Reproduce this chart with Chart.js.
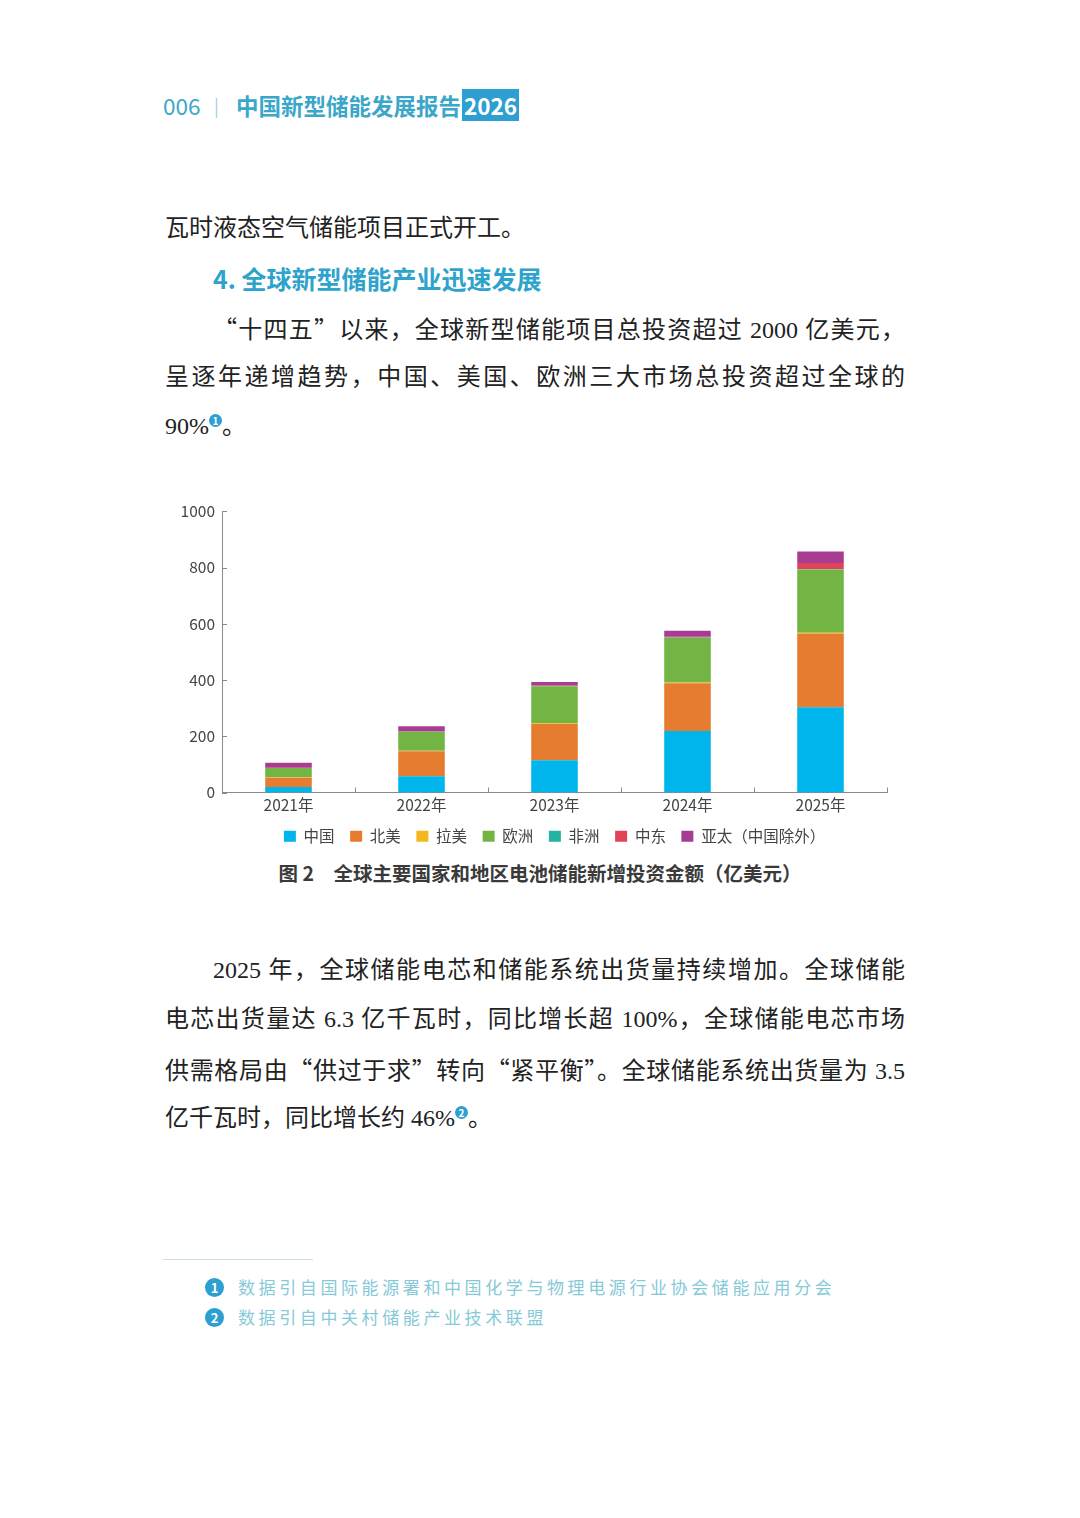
<!DOCTYPE html>
<html>
<head>
<meta charset="utf-8">
<script src="https://cdn.jsdelivr.net/npm/chart.js@4.4.1/dist/chart.umd.min.js"></script>
<style>
  body { margin: 0; background: #fff; width: 1080px; height: 1518px; position: relative; overflow: hidden; }
  .abs { position: absolute; }
  .hdr { top: 89px; font-family: "Noto Sans CJK SC", sans-serif; font-size: 22.5px; line-height: 32px; color: #3aa7c8; }
  .line { position: absolute; left: 165px; width: 740px; font-family: "Liberation Serif", "Noto Sans CJK SC", serif; font-size: 24px; line-height: 30px; color: #222; }
  .just { text-align: justify; text-align-last: justify; }
  .q { font-family: "Noto Sans CJK SC", sans-serif; }
  .sup { display: inline-block; width: 13px; height: 13px; border-radius: 50%; background: #2d9fd0; color: #fff; font-family: "Noto Sans CJK SC", sans-serif; font-size: 10px; line-height: 13px; text-align: center; vertical-align: 9px; font-weight: bold; }
  .foot { position: absolute; left: 205px; font-family: "Noto Sans CJK SC", sans-serif; font-size: 17px; letter-spacing: 3.6px; color: #86c9d8; line-height: 26px; }
  .num { display: inline-block; width: 19px; height: 19px; border-radius: 50%; background: #2d9fd0; color: #fff; font-size: 13px; line-height: 19px; text-align: center; letter-spacing: 0; font-weight: bold; margin-right: 14px; vertical-align: 1px; }
  #wrap { position: absolute; left: 165px; top: 495px; width: 740px; height: 359px; }
  .cap { position: absolute; top: 859px; left: 0; width: 1080px; text-align: center; font-family: "Noto Sans CJK SC", sans-serif; font-weight: bold; font-size: 19.5px; line-height: 28px; color: #3a3a3a; }
</style>
</head>
<body>
<div class="abs hdr" style="left:163px;">006</div>
<div class="abs hdr" style="left:214px;color:#9fd2e0;font-size:18px;">|</div>
<div class="abs hdr" style="left:236px;font-weight:bold;">中国新型储能发展报告<span style="background:#2d9fd0;color:#fff;padding:0 2px;margin-left:1px;">2026</span></div>

<div class="line" style="top:213px;">瓦时液态空气储能项目正式开工。</div>
<div class="line" style="top:263px;left:213px;font-family:'Noto Sans CJK SC',sans-serif;font-weight:bold;font-size:25px;color:#2ea3cb;">4. 全球新型储能产业迅速发展</div>
<div class="line just" style="top:313px;">&emsp;&emsp;<span class="q">“</span>十四五<span class="q">”</span>以来，全球新型储能项目总投资超过 2000 亿美元，</div>
<div class="line just" style="top:362px;">呈逐年递增趋势，中国、美国、欧洲三大市场总投资超过全球的</div>
<div class="line" style="top:411px;">90%<span class="sup">1</span>。</div>

<div id="wrap"><canvas id="grafico"></canvas></div>
<div class="cap">图 2&emsp;全球主要国家和地区电池储能新增投资金额（亿美元）</div>

<div class="line just" style="top:955px;">&emsp;&emsp;2025 年，全球储能电芯和储能系统出货量持续增加。全球储能</div>
<div class="line just" style="top:1004px;">电芯出货量达 6.3 亿千瓦时，同比增长超 100%，全球储能电芯市场</div>
<div class="line just" style="top:1054px;">供需格局由<span class="q">“</span>供过于求<span class="q">”</span>转向<span class="q">“</span>紧平衡<span class="q">”</span>。全球储能系统出货量为 3.5</div>
<div class="line" style="top:1103px;">亿千瓦时，同比增长约 46%<span class="sup">2</span>。</div>

<div class="abs" style="left:163px;top:1259px;width:150px;height:1px;background:#c9dfe6;"></div>
<div class="foot" style="top:1274px;"><span class="num">1</span>数据引自国际能源署和中国化学与物理电源行业协会储能应用分会</div>
<div class="foot" style="top:1304px;"><span class="num">2</span>数据引自中关村储能产业技术联盟</div>

<script>
// 数据（亿美元）
const anios = ['2021年', '2022年', '2023年', '2024年', '2025年'];
const china = [20, 58, 115, 219, 303];
const norteamerica = [33, 89, 129, 170, 262];
const latinoamerica = [1, 2, 2, 2, 3];
const europa = [33, 66, 132, 159, 225];
const africa = [0, 1, 1, 1, 1];
const orienteMedio = [1, 2, 2, 3, 22];
const asiaPacifico = [18, 18, 12, 21, 41];
const yTicks = [0, 200, 400, 600, 800, 1000];

const series = [
    { label: '中国', data: china, color: '#00b5ec' },
    { label: '北美', data: norteamerica, color: '#e67c2f' },
    { label: '拉美', data: latinoamerica, color: '#f4b71e' },
    { label: '欧洲', data: europa, color: '#72b544' },
    { label: '非洲', data: africa, color: '#25b3a1' },
    { label: '中东', data: orienteMedio, color: '#df4458' },
    { label: '亚太（中国除外）', data: asiaPacifico, color: '#a73c93' }
];

// ticks hacia dentro, como en el libro
const ticksInternos = {
    id: 'ticksInternos',
    afterDraw(chart) {
        const ctx = chart.ctx;
        const x = chart.scales.x;
        const y = chart.scales.y;
        ctx.save();
        ctx.strokeStyle = '#8a8a8a';
        ctx.lineWidth = 1;
        ctx.beginPath();
        yTicks.forEach(v => {
            const py = Math.round(y.getPixelForValue(v)) + 0.5;
            ctx.moveTo(x.left, py);
            ctx.lineTo(x.left + 5, py);
        });
        const n = anios.length;
        for (let i = 1; i <= n; i++) {
            let px;
            if (i < n) {
                px = (x.getPixelForValue(i - 1) + x.getPixelForValue(i)) / 2;
            } else {
                px = x.right;
            }
            px = Math.round(px) + 0.5;
            ctx.moveTo(px, y.bottom);
            ctx.lineTo(px, y.bottom - 5);
        }
        ctx.stroke();
        ctx.restore();
    }
};

const fuente = '"Noto Sans CJK SC", sans-serif';
const ctx = document.getElementById('grafico').getContext('2d');
const miGrafico = new Chart(ctx, {
    type: 'bar',
    data: {
        labels: anios,
        datasets: series.map(s => ({
            label: s.label,
            data: s.data,
            backgroundColor: s.color,
            borderWidth: 0,
            barPercentage: 0.35,
            categoryPercentage: 1
        }))
    },
    options: {
        responsive: true,
        maintainAspectRatio: false,
        animation: false,
        layout: { padding: { top: 6, right: 18, left: 0, bottom: 0 } },
        plugins: {
            legend: {
                position: 'bottom',
                fullSize: false,
                labels: {
                    boxWidth: 12,
                    boxHeight: 11,
                    padding: 15.5,
                    color: '#444',
                    font: { family: fuente, size: 15.5 }
                }
            },
            tooltip: { enabled: false }
        },
        scales: {
            x: {
                stacked: true,
                grid: { display: false, drawTicks: true, tickLength: 4.5 },
                border: { display: true, color: '#8a8a8a', width: 1 },
                ticks: { color: '#444', font: { family: fuente, size: 15.5, lineHeight: 1.03 }, padding: 0 }
            },
            y: {
                stacked: true,
                min: 0,
                max: 1000,
                afterFit(scale) { scale.width = 57; },
                afterBuildTicks(scale) { scale.ticks = yTicks.map(v => ({ value: v })); },
                grid: { display: false, drawTicks: false },
                border: { display: true, color: '#8a8a8a', width: 1 },
                ticks: {
                    color: '#444',
                    font: { family: fuente, size: 15.5 },
                    padding: 7,
                    callback: v => String(v)
                }
            }
        }
    },
    plugins: [ticksInternos]
});
</script>
</body>
</html>
